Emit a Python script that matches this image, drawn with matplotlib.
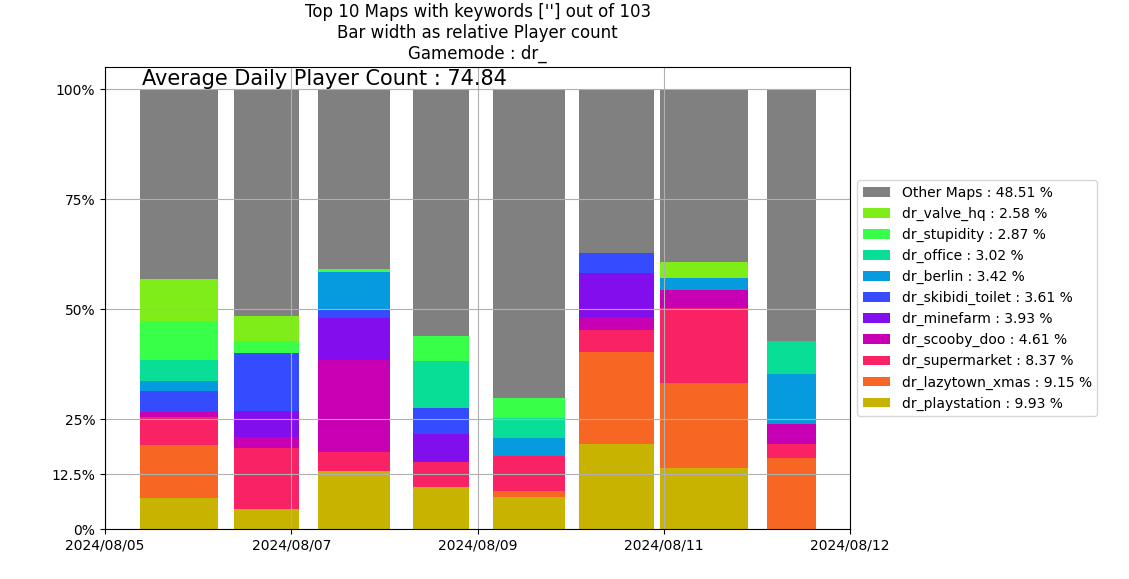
import numpy as np
import matplotlib
matplotlib.use("Agg")
import matplotlib.pyplot as plt

# bar centers (days from 2024/08/05) and relative player count widths
positions = [0.795, 1.734, 2.674, 3.608, 4.553, 5.493, 6.432, 7.372]
widths = [0.838, 0.698, 0.773, 0.601, 0.773, 0.805, 0.945, 0.526]

tick_pos = [0, 2, 4, 6, 8]
tick_labels = ["2024/08/05", "2024/08/07", "2024/08/09", "2024/08/11", "2024/08/12"]

# stacked from bottom, in % per day
maps = ["dr_playstation", "dr_lazytown_xmas", "dr_supermarket", "dr_scooby_doo",
        "dr_minefarm", "dr_skibidi_toilet", "dr_berlin", "dr_office",
        "dr_stupidity", "dr_valve_hq"]
map_share = [9.93, 9.15, 8.37, 4.61, 3.93, 3.61, 3.42, 3.02, 2.87, 2.58]
other_share = 48.51

playstation = [7.05, 4.5, 13.3, 9.5, 7.3, 19.3, 13.9, 0.0]
lazytown = [12.05, 0.0, 0.0, 0.0, 1.3, 20.9, 19.3, 16.1]
supermarket = [6.3, 13.9, 4.2, 5.7, 8.0, 5.0, 17.0, 3.2]
scooby = [1.2, 2.5, 20.9, 0.0, 0.0, 3.0, 4.1, 4.6]
minefarm = [0.0, 5.9, 9.6, 6.4, 0.0, 10.0, 0.0, 0.0]
skibidi = [4.8, 13.2, 2.1, 5.9, 0.0, 4.5, 0.0, 0.0]
berlin = [2.2, 0.0, 8.3, 0.0, 4.1, 0.0, 2.7, 11.3]
office = [4.8, 0.0, 0.0, 10.7, 4.5, 0.0, 0.0, 7.5]
stupidity = [8.9, 2.7, 0.8, 5.7, 4.6, 0.0, 0.0, 0.0]
valve = [9.5, 5.7, 0.0, 0.0, 0.0, 0.0, 3.7, 0.0]

series = [playstation, lazytown, supermarket, scooby, minefarm, skibidi,
          berlin, office, stupidity, valve]
colors = ["#c8b400", "#f86624", "#f82264", "#c800b4", "#820eee", "#344bff",
          "#069bde", "#08de96", "#38ff48", "#7fee18"]

fig, ax = plt.subplots(figsize=(11.29, 5.79), dpi=100)
fig.subplots_adjust(left=0.093, right=0.753, top=0.884, bottom=0.086)

bottom = np.zeros(len(positions))
handles = []
for name, share, vals, col in zip(maps, map_share, series, colors):
    v = np.array(vals) / 100
    h = ax.bar(positions, v, width=widths, bottom=bottom, color=col,
               label=f"{name} : {share:.2f} %")
    handles.append(h)
    bottom += v
h = ax.bar(positions, 1 - bottom, width=widths, bottom=bottom, color="gray",
           label=f"Other Maps : {other_share:.2f} %")
handles.append(h)

ax.set_xlim(0, 8)
ax.set_ylim(0, 1.05)
ax.set_xticks(tick_pos)
ax.set_xticklabels(tick_labels)
ax.set_yticks([0, 0.125, 0.25, 0.5, 0.75, 1.0])
ax.set_yticklabels(["0%", "12.5%", "25%", "50%", "75%", "100%"])
ax.grid(True, color="#b0b0b0")
ax.set_axisbelow("line")  # grid over the bars, under the spines

ax.set_title("Top 10 Maps with keywords [''] out of 103\nBar width as relative Player count\nGamemode : dr_",
             fontsize=12)
ax.text(0.05, 0.975, "Average Daily Player Count : 74.84", transform=ax.transAxes,
        fontsize=15, va="center")

ax.legend(handles=handles[::-1], loc="center left", bbox_to_anchor=(1.0, 0.5))

fig.savefig("out.png", dpi=100)
